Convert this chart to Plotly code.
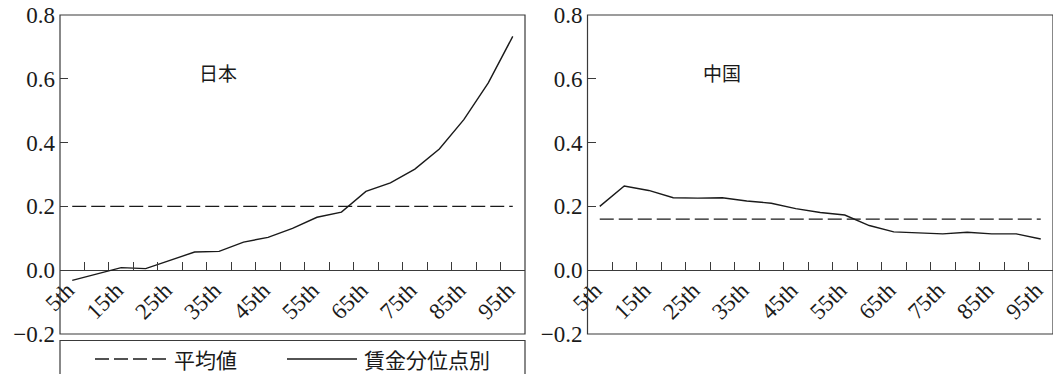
import plotly.graph_objects as go

# ---------------- data ----------------
categories = ["5th", "10th", "15th", "20th", "25th", "30th", "35th", "40th", "45th", "50th",
              "55th", "60th", "65th", "70th", "75th", "80th", "85th", "90th", "95th"]
japan_wage = [-0.032, -0.012, 0.008, 0.005, 0.030, 0.057, 0.059, 0.088, 0.103, 0.131,
              0.166, 0.182, 0.247, 0.274, 0.317, 0.380, 0.472, 0.587, 0.733]
china_wage = [0.200, 0.264, 0.250, 0.227, 0.226, 0.227, 0.217, 0.210, 0.193, 0.181,
              0.173, 0.140, 0.120, 0.116, 0.114, 0.119, 0.114, 0.114, 0.098]
japan_mean = 0.20
china_mean = 0.16
y_ticks = [-0.2, 0.0, 0.2, 0.4, 0.6, 0.8]
panel_titles = ["日本", "中国"]
legend_labels = ["平均値", "賃金分位点別"]

# ---------------- layout constants ----------------
W, H = 1053, 374
NUM_FONT = "Liberation Serif, Times New Roman, serif"
CJK_FONT = "Noto Sans CJK JP, sans-serif"
INK = "#1a1a1a"
FRAME = "#3a3a3a"


def px_x(v):
    """pixel x -> paper fraction"""
    return v / W


def px_y(v):
    """pixel y (from top) -> paper fraction"""
    return 1 - v / H


idx = list(range(len(categories)))
tick_pos = [i + 0.5 for i in idx]                       # category boundaries
tick_txt = [c if i % 2 == 0 else "" for i, c in enumerate(categories)]

y_dom = [px_y(334), px_y(15)]
zero_pos = y_dom[0] + (0 - y_ticks[0]) / (y_ticks[-1] - y_ticks[0]) * (y_dom[1] - y_dom[0])

panels = [
    dict(x="x", y="y", xl="xaxis", yl="yaxis", dom=[px_x(60), px_x(525)],
         wage=japan_wage, mean=japan_mean, title=panel_titles[0], tx=0.34),
    dict(x="x2", y="y2", xl="xaxis2", yl="yaxis2", dom=[px_x(587.5), 1.0],
         wage=china_wage, mean=china_mean, title=panel_titles[1], tx=0.29),
]

fig = go.Figure()
layout = dict(
    width=W, height=H,
    margin=dict(l=0, r=0, t=0, b=0, autoexpand=False),
    paper_bgcolor="white", plot_bgcolor="white",
    showlegend=False,
    font=dict(family=NUM_FONT, size=22, color=INK),
)
shapes = []
annotations = []

for p in panels:
    fig.add_trace(go.Scatter(
        x=idx, y=[p["mean"]] * len(idx), xaxis=p["x"], yaxis=p["y"],
        mode="lines", name=legend_labels[0], cliponaxis=False,
        line=dict(color=INK, width=1.4, dash="14px,5px"),
    ))
    fig.add_trace(go.Scatter(
        x=idx, y=p["wage"], xaxis=p["x"], yaxis=p["y"],
        mode="lines", name=legend_labels[1], cliponaxis=False,
        line=dict(color=INK, width=1.4),
    ))
    layout[p["xl"]] = dict(
        domain=p["dom"], range=[-0.5, len(idx) - 0.5],
        anchor="free", position=zero_pos, automargin=False,
        tickmode="array", tickvals=tick_pos, ticktext=tick_txt,
        ticks="inside", ticklen=8, tickcolor=FRAME, tickwidth=1,
        tickangle=-45, ticklabelshift=-17, ticklabelstandoff=1,
        ticklabeloverflow="allow",
        tickfont=dict(family=NUM_FONT, size=23, color=INK),
        showline=False, showgrid=False, zeroline=False, fixedrange=True,
    )
    layout[p["yl"]] = dict(
        domain=y_dom, range=[y_ticks[0], y_ticks[-1]],
        anchor=p["x"], automargin=False,
        tickmode="array", tickvals=y_ticks, tickformat=".1f",
        ticks="inside", ticklen=8, tickcolor=FRAME, tickwidth=1,
        ticklabelstandoff=4, ticklabeloverflow="allow",
        tickfont=dict(family=NUM_FONT, size=23, color=INK),
        showline=False, showgrid=False,
        zeroline=True, zerolinecolor=FRAME, zerolinewidth=1.2,
        fixedrange=True,
    )
    shapes.append(dict(type="rect", xref=p["x"] + " domain", yref=p["y"] + " domain",
                       x0=0, x1=1, y0=0, y1=1, line=dict(color=FRAME, width=1.2),
                       layer="above"))
    annotations.append(dict(
        text=p["title"], xref=p["x"] + " domain", yref=p["y"],
        x=p["tx"], y=0.62, showarrow=False, xanchor="center", yanchor="middle",
        font=dict(family=CJK_FONT, size=19, color=INK),
    ))

# ---------------- legend box (below left panel) ----------------
leg_y = 359
shapes.append(dict(type="rect", xref="paper", yref="paper",
                   x0=px_x(60), x1=px_x(525), y0=px_y(400), y1=px_y(340.5),
                   line=dict(color=FRAME, width=1.2)))
shapes.append(dict(type="line", xref="paper", yref="paper",
                   x0=px_x(95), x1=px_x(168), y0=px_y(leg_y), y1=px_y(leg_y),
                   line=dict(color=INK, width=1.4, dash="14px,5px")))
shapes.append(dict(type="line", xref="paper", yref="paper",
                   x0=px_x(287), x1=px_x(357), y0=px_y(leg_y), y1=px_y(leg_y),
                   line=dict(color=INK, width=1.4)))
annotations.append(dict(text=legend_labels[0], xref="paper", yref="paper",
                        x=px_x(172), y=px_y(leg_y), xanchor="left", yanchor="middle",
                        showarrow=False, font=dict(family=CJK_FONT, size=21, color=INK)))
annotations.append(dict(text=legend_labels[1], xref="paper", yref="paper",
                        x=px_x(362), y=px_y(leg_y), xanchor="left", yanchor="middle",
                        showarrow=False, font=dict(family=CJK_FONT, size=21, color=INK)))

layout["shapes"] = shapes
layout["annotations"] = annotations
fig.update_layout(**layout)

# remove the page's default body margin so the figure fills the window exactly
fig.write_html("out.html", config={"displayModeBar": False},
               post_script="document.body.style.margin='0px';")
